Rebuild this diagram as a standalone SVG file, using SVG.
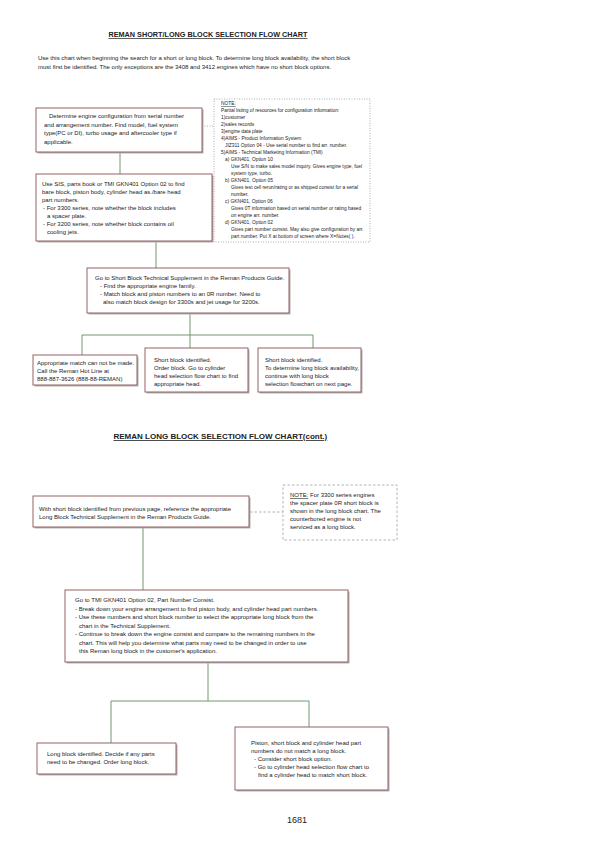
<svg xmlns="http://www.w3.org/2000/svg" width="595" height="842" viewBox="0 0 595 842">
<style>
text{font-family:"Liberation Sans",Arial,sans-serif;fill:#222}
.t{font-size:6px}
.n{font-size:4.85px}
.h{font-weight:bold;text-decoration:underline}
.box{fill:#fff;stroke:#8a5252;stroke-width:0.9}
.sh{fill:#b4b4b4}
.c{stroke:#6e9a6e;stroke-width:1;fill:none}
.dot{stroke:#9a9a9a;stroke-width:0.8;fill:none;stroke-dasharray:1 1.5}
.dash{stroke:#a0a0a0;stroke-width:0.8;fill:none;stroke-dasharray:2.5 2}
</style>
<rect width="595" height="842" fill="#fff"/>

<text x="108.5" y="37" class="h" style="font-size:7.25px">REMAN SHORT/LONG BLOCK SELECTION FLOW CHART</text>
<text class="t"><tspan x="38" y="60">Use this chart when beginning the search for a short or long block. To determine long block availability, the short block</tspan><tspan x="38" y="69">must first be identified. The only exceptions are the 3408 and 3412 engines which have no short block options.</tspan></text>

<g id="connectors">
<line class="dot" x1="202" y1="126" x2="214" y2="126"/>
<line class="c" x1="120" y1="152" x2="120" y2="174"/>
<line class="c" x1="156" y1="241" x2="156" y2="268"/>
<polyline class="c" points="190,313 190,335"/>
<polyline class="c" points="82,355 82,335 313,335 313,348"/>
<line class="c" x1="190" y1="335" x2="190" y2="348"/>
<line class="dash" x1="250" y1="512" x2="283" y2="512"/>
<line class="c" x1="143" y1="527" x2="143" y2="590"/>
<line class="c" x1="208" y1="663" x2="208" y2="701"/>
<polyline class="c" points="111,743 111,701 309,701 309,727"/>
</g>

<g id="n1">
<rect class="sh" x="37.5" y="109.5" width="166" height="44"/>
<rect class="box" x="36" y="108" width="166" height="44"/>
<text class="t"><tspan x="49" y="118">Determine engine configuration from serial number</tspan><tspan x="44" y="126.5">and arrangement number. Find model, fuel system</tspan><tspan x="44" y="135">type(PC or DI), turbo usage and aftercooler type if</tspan><tspan x="44" y="143.5">applicable.</tspan></text>
</g>

<g id="notes1">
<rect x="214" y="99" width="156" height="143" fill="none" class="dot"/>
<text class="n">
<tspan x="221" y="105" text-decoration="underline">NOTE:</tspan>
<tspan x="221" y="112">Partial listing of resources for configuration information:</tspan>
<tspan x="221" y="119">1)customer</tspan>
<tspan x="221" y="126">2)sales records</tspan>
<tspan x="221" y="133">3)engine data plate</tspan>
<tspan x="221" y="140">4)AIMS - Product Information System</tspan>
<tspan x="225" y="147">JIZ311 Option 04 - Use serial number to find arr. number.</tspan>
<tspan x="221" y="154">5)AIMS - Technical Marketing Information (TMI)</tspan>
<tspan x="225" y="161">a) GKN401, Option 10</tspan>
<tspan x="231" y="168">Use S/N to make sales model inquiry. Gives engine type, fuel</tspan>
<tspan x="231" y="175">system type, turbo.</tspan>
<tspan x="225" y="182">b) GKN401, Option 05</tspan>
<tspan x="231" y="189">Gives test cell rerun/rating or as shipped consist for a serial</tspan>
<tspan x="231" y="196">number.</tspan>
<tspan x="225" y="203">c) GKN401, Option 06</tspan>
<tspan x="231" y="210">Gives 0T information based on serial number or rating based</tspan>
<tspan x="231" y="217">on engine arr. number.</tspan>
<tspan x="225" y="224">d) GKN401, Option 02</tspan>
<tspan x="231" y="231">Gives part number consist. May also give configuration by arr.</tspan>
<tspan x="231" y="238">part number. Put X at bottom of screen where X=Notes(  ).</tspan>
</text>
</g>

<g id="n2">
<rect class="sh" x="37.5" y="175.5" width="176" height="67"/>
<rect class="box" x="36" y="174" width="176" height="67"/>
<text class="t"><tspan x="42" y="186">Use SIS, parts book or TMI GKN401 Option 02 to find</tspan><tspan x="42" y="194">bare block, piston body, cylinder head as./bare head</tspan><tspan x="42" y="202">part numbers.</tspan><tspan x="43" y="210">- For 3300 series, note whether the block includes</tspan><tspan x="47" y="218">a spacer plate.</tspan><tspan x="43" y="226">- For 3200 series, note whether block contains oil</tspan><tspan x="47" y="234">cooling jets.</tspan></text>
</g>

<g id="n3">
<rect class="sh" x="88.5" y="269.5" width="202" height="45"/>
<rect class="box" x="87" y="268" width="202" height="45"/>
<text class="t"><tspan x="95" y="280">Go to Short Block Technical Supplement in the Reman Products Guide.</tspan><tspan x="100" y="288">- Find the appropriate engine family.</tspan><tspan x="100" y="296">- Match block and piston numbers to an 0R number. Need to</tspan><tspan x="103" y="304">also match block design for 3300s and jet usage for 3200s.</tspan></text>
</g>

<g id="n4">
<rect class="sh" x="34.5" y="356.5" width="104" height="30"/>
<rect class="box" x="33" y="355" width="104" height="30"/>
<text class="t"><tspan x="37" y="365">Appropriate match can not be made.</tspan><tspan x="37" y="373">Call the Reman Hot Line at</tspan><tspan x="37" y="381">888-887-3626 (888-88-REMAN)</tspan></text>
</g>

<g id="n5">
<rect class="sh" x="146.5" y="349.5" width="103" height="44"/>
<rect class="box" x="145" y="348" width="103" height="44"/>
<text class="t"><tspan x="154" y="362">Short block identified.</tspan><tspan x="154" y="370">Order block. Go to cylinder</tspan><tspan x="154" y="378">head selection flow chart to find</tspan><tspan x="154" y="386">appropriate head.</tspan></text>
</g>

<g id="n6">
<rect class="sh" x="259.5" y="349.5" width="103" height="44"/>
<rect class="box" x="258" y="348" width="103" height="44"/>
<text class="t"><tspan x="265" y="362">Short block identified.</tspan><tspan x="265" y="370">To determine long block availability,</tspan><tspan x="265" y="378">continue with long block</tspan><tspan x="265" y="386">selection flowchart on next page.</tspan></text>
</g>

<text x="113.5" y="439" class="h" style="font-size:8px">REMAN LONG BLOCK SELECTION FLOW CHART(cont.)</text>

<g id="n7">
<rect class="sh" x="34.5" y="497.5" width="216" height="31"/>
<rect class="box" x="33" y="496" width="216" height="31"/>
<text class="t"><tspan x="39" y="511">With short block identified from previous page, reference the appropriate</tspan><tspan x="39" y="519">Long Block Technical Supplement in the Reman Products Guide.</tspan></text>
</g>

<g id="notes2">
<rect x="283" y="485" width="114" height="55" class="dash"/>
<text class="t"><tspan x="290" y="497"><tspan text-decoration="underline">NOTE:</tspan> For 3300 series engines</tspan><tspan x="290" y="505">the spacer plate 0R short block is</tspan><tspan x="290" y="513">shown in the long block chart. The</tspan><tspan x="290" y="521">counterbored engine is not</tspan><tspan x="290" y="529">serviced as a long block.</tspan></text>
</g>

<g id="n8">
<rect class="sh" x="66.5" y="591.5" width="283" height="72"/>
<rect class="box" x="65" y="590" width="283" height="72"/>
<text class="t"><tspan x="75" y="602">Go to TMI GKN401 Option 02, Part Number Consist.</tspan><tspan x="75" y="610.5">- Break down your engine arrangement to find piston body,  and cylinder head part numbers.</tspan><tspan x="75" y="619">- Use these numbers and short block number to select the appropriate long block from the</tspan><tspan x="79" y="627.5">chart in the Technical Supplement.</tspan><tspan x="75" y="636">- Continue to break down the engine consist and compare to the remaining numbers in the</tspan><tspan x="79" y="644.5">chart. This will help you determine what parts may need to be changed in order to use</tspan><tspan x="79" y="653">this Reman long block in the customer's application.</tspan></text>
</g>

<g id="n9">
<rect class="sh" x="38.5" y="744.5" width="139" height="31"/>
<rect class="box" x="37" y="743" width="139" height="31"/>
<text class="t"><tspan x="47" y="756">Long block identified. Decide if any parts</tspan><tspan x="47" y="764">need to be changed. Order long block.</tspan></text>
</g>

<g id="n10">
<rect class="sh" x="236.5" y="728.5" width="153" height="63"/>
<rect class="box" x="235" y="727" width="153" height="63"/>
<text class="t"><tspan x="251" y="745">Piston, short block and cylinder head part</tspan><tspan x="251" y="753">numbers do not match a long block.</tspan><tspan x="254" y="761">- Consider short block option.</tspan><tspan x="254" y="769">- Go to cylinder head selection flow chart to</tspan><tspan x="258" y="777">find a cylinder head to match short block.</tspan></text>
</g>

<text x="297" y="823" text-anchor="middle" style="font-size:9px">1681</text>
</svg>
